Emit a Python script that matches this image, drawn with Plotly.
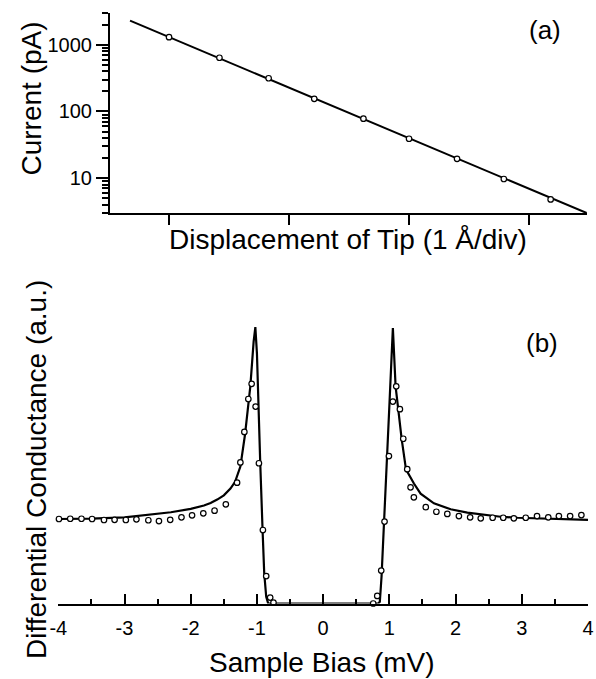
import math
import plotly.graph_objects as go

# ---------------- Panel (a): current vs tip displacement ----------------
disp_x = [1.0, 1.42, 1.83, 2.21, 2.62, 3.0, 3.4, 3.79, 4.18]
current_pA = [1300, 640, 315, 155, 78, 39, 19.5, 9.7, 4.8]
fit_a_x = [0.675, 4.48]
fit_a_y = [2300, 3.0]
a_xticks = [1, 2, 3, 4]
a_yticks = [10, 100, 1000]
a_ytick_text = ["10", "100", "1000"]
a_yminor = [3, 4, 5, 6, 7, 8, 9, 20, 30, 40, 50, 60, 70, 80, 90,
            200, 300, 400, 500, 600, 700, 800, 900, 2000, 3000]

# ---------------- Panel (b): differential conductance ----------------
bias_pts = [-3.99, -3.82, -3.65, -3.49, -3.31, -3.15, -2.98, -2.82, -2.64, -2.48,
            -2.31, -2.14, -1.98, -1.81, -1.64, -1.47, -1.30, -1.25, -1.19, -1.13,
            -1.08, -1.02, -0.97, -0.91, -0.86, -0.80, -0.75, -0.69,
            -0.52, -0.35, -0.18, -0.015, 0.15, 0.32, 0.49, 0.655, 0.756,
            0.817, 0.877, 0.927, 0.993, 1.053, 1.104, 1.159, 1.21, 1.27, 1.32,
            1.37, 1.55, 1.71, 1.875, 2.05, 2.22, 2.38, 2.56, 2.72, 2.88, 3.06,
            3.23, 3.40, 3.56, 3.73, 3.90]
cond_pts = [1.00, 1.003, 1.003, 1.00, 0.988, 0.99, 0.988, 0.996, 0.985, 0.976,
            0.99, 1.02, 1.044, 1.067, 1.098, 1.174, 1.43, 1.67, 2.03, 2.42,
            2.60, 2.33, 1.66, 0.87, 0.325, 0.07, 0.01, -0.02,
            -0.02, -0.01, -0.02, -0.03, -0.01, -0.02, -0.01, -0.01, 0.0,
            0.09, 0.39, 0.97, 1.745, 2.39, 2.57, 2.30, 1.95, 1.59, 1.375,
            1.257, 1.14, 1.086, 1.06, 1.035, 1.02, 1.008, 1.015, 1.015, 1.008, 1.015,
            1.035, 1.02, 1.035, 1.035, 1.047]
fit_b_x = [-4.0, -3.5, -3.0, -2.6, -2.3, -2.0, -1.8, -1.7, -1.6, -1.5, -1.4, -1.33,
           -1.25, -1.18, -1.10, -1.05, -1.024, -1.0, -0.975, -0.95, -0.915, -0.89,
           -0.86, -0.83, 0.83, 0.856, 0.882, 0.917, 0.968, 1.003, 1.053, 1.094,
           1.134, 1.185, 1.245, 1.271, 1.371, 1.472, 1.673, 1.926, 2.178, 2.43,
           2.68, 2.935, 3.4, 4.0]
fit_b_y = [1.00, 1.005, 1.02, 1.05, 1.08, 1.12, 1.16, 1.19, 1.23, 1.28, 1.36, 1.44,
           1.62, 2.00, 2.57, 3.10, 3.27, 2.96, 2.17, 1.66, 0.87, 0.36,
           0.08, 0.0, 0.0, 0.02, 0.32, 0.97, 1.745, 2.39, 3.26, 2.57,
           2.30, 1.95, 1.62, 1.56, 1.42, 1.30, 1.186, 1.115, 1.075, 1.047,
           1.027, 1.015, 1.005, 0.99]
b_xticks = [-4, -3, -2, -1, 0, 1, 2, 3, 4]
b_xtick_text = ["-4", "-3", "-2", "-1", "0", "1", "2", "3", "4"]

W, H = 596, 679
FONT = "Liberation Sans, Arial, Helvetica, sans-serif"


def px(x):
    return x / W


def py(y):
    return 1 - y / H


fig = go.Figure()

marker_style = dict(symbol="circle", size=5.5, color="white",
                    line=dict(color="black", width=1.2))

fig.add_trace(go.Scatter(x=fit_a_x, y=fit_a_y, mode="lines",
                         line=dict(color="black", width=2),
                         xaxis="x", yaxis="y", cliponaxis=False))
fig.add_trace(go.Scatter(x=disp_x, y=current_pA, mode="markers",
                         marker=marker_style, xaxis="x", yaxis="y",
                         cliponaxis=False))

fig.add_trace(go.Scatter(x=fit_b_x, y=fit_b_y, mode="lines",
                         line=dict(color="black", width=2.2),
                         xaxis="x2", yaxis="y2", cliponaxis=False))
fig.add_trace(go.Scatter(x=bias_pts, y=cond_pts, mode="markers",
                         marker=marker_style, xaxis="x2", yaxis="y2",
                         cliponaxis=False))

axis_common = dict(showgrid=False, zeroline=False, showline=True,
                   linecolor="black", linewidth=2, tickcolor="black",
                   automargin=False,
                   tickfont=dict(family=FONT, size=20, color="black"))

fig.update_layout(
    width=W, height=H,
    margin=dict(l=0, r=0, t=0, b=0, pad=0),
    paper_bgcolor="white", plot_bgcolor="white",
    showlegend=False,
    font=dict(family=FONT, color="black"),
    xaxis=dict(domain=[px(110), px(587)], anchor="y", range=[0.508, 4.483],
               ticks="outside", ticklen=10, tickwidth=2, tickmode="array",
               tickvals=a_xticks, showticklabels=False, **axis_common),
    yaxis=dict(domain=[py(213), py(13)], anchor="x", type="log",
               range=[math.log10(3), math.log10(3000)],
               ticks="outside", ticklen=12, tickwidth=2, tickmode="array",
               tickvals=a_yticks, ticktext=a_ytick_text,
               minor=dict(ticks="outside", ticklen=6, tickwidth=1.5,
                          tickcolor="black", tickmode="array",
                          tickvals=a_yminor, showgrid=False),
               **axis_common),
    xaxis2=dict(domain=[px(58.3), px(588)], anchor="y2", range=[-4, 4],
                ticks="inside", ticklen=10, tickwidth=2, tickmode="array",
                tickvals=b_xticks, ticktext=b_xtick_text, ticklabelstandoff=5,
                minor=dict(ticks="inside", ticklen=5, tickwidth=2,
                           tickcolor="black", dtick=0.5, showgrid=False),
                **axis_common),
    yaxis2=dict(domain=[py(603.5), py(307.75)], anchor="x2", range=[0, 3.5],
                visible=False, automargin=False),
)

ann_font = dict(family=FONT, size=28, color="black")
fig.add_annotation(text="Current (pA)", x=px(31), y=py(98.5), xref="paper",
                   yref="paper", showarrow=False, textangle=-90,
                   xanchor="center", yanchor="middle", font=ann_font)
fig.add_annotation(text="Displacement of Tip (1 Å/div)", x=px(347.5), y=py(239),
                   xref="paper", yref="paper", showarrow=False,
                   xanchor="center", yanchor="middle", font=ann_font)
fig.add_annotation(text="Differential Conductance (a.u.)", x=px(36), y=py(470),
                   xref="paper", yref="paper", showarrow=False, textangle=-90,
                   xanchor="center", yanchor="middle", font=ann_font)
fig.add_annotation(text="Sample Bias (mV)", x=px(322), y=py(662),
                   xref="paper", yref="paper", showarrow=False,
                   xanchor="center", yanchor="middle", font=ann_font)
fig.add_annotation(text="(a)", x=px(545), y=py(30), xref="paper", yref="paper",
                   showarrow=False, xanchor="center", yanchor="middle",
                   font=dict(family=FONT, size=26, color="black"))
fig.add_annotation(text="(b)", x=px(542), y=py(343), xref="paper", yref="paper",
                   showarrow=False, xanchor="center", yanchor="middle",
                   font=dict(family=FONT, size=26, color="black"))

fig.write_html("out.html",
               config={"displayModeBar": False},
               post_script="document.body.style.margin='0';"
                           "document.body.style.overflow='hidden';")
